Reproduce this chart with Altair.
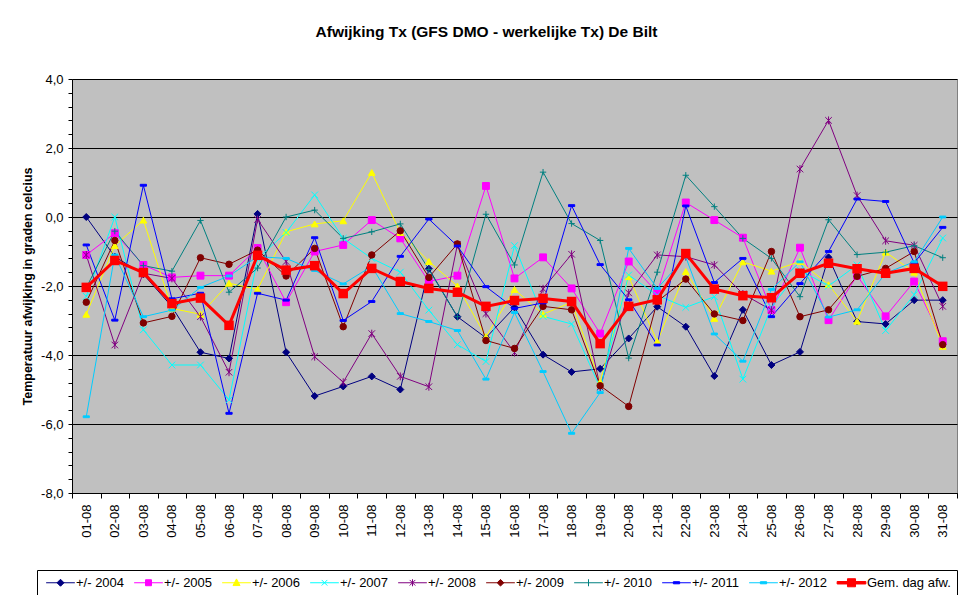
import altair as alt
import pandas as pd

FONT = "Liberation Sans"

days = ["01-08", "02-08", "03-08", "04-08", "05-08", "06-08", "07-08", "08-08",
        "09-08", "10-08", "11-08", "12-08", "13-08", "14-08", "15-08", "16-08",
        "17-08", "18-08", "19-08", "20-08", "21-08", "22-08", "23-08", "24-08",
        "25-08", "26-08", "27-08", "28-08", "29-08", "30-08", "31-08"]

s2004 = [0.00, -1.15, -1.66, -2.60, -3.92, -4.10, 0.09, -3.92, -5.19, -4.91, -4.62, -5.00, -1.50, -2.89, -3.50, -2.62,
         -3.99, -4.49, -4.40, -3.52, -2.60, -3.18, -4.61, -2.69, -4.29, -3.91, -1.17, -3.03, -3.10, -2.41, -2.41]
s2005 = [-1.10, -0.47, -1.39, -1.75, -1.70, -1.70, -0.90, -2.47, -1.00, -0.81, -0.09, -0.62, -1.87, -1.70, 0.90, -1.78,
         -1.17, -2.07, -3.38, -1.29, -2.19, 0.42, -0.09, -0.60, -2.70, -0.89, -2.99, -1.70, -2.88, -1.87, -3.60]
s2006 = [-2.82, -0.83, -0.09, -2.65, -2.82, -1.92, -2.10, -0.43, -0.20, -0.11, 1.29, -0.45, -1.29, -2.00, -3.47, -2.10,
         -2.82, -2.47, -4.78, -1.73, -3.61, -1.58, -2.94, -1.30, -1.57, -1.29, -1.96, -3.02, -1.02, -1.60, -3.75]
s2007 = [-2.30, 0.00, -3.27, -4.29, -4.29, -5.30, -1.21, -0.45, 0.64, -0.62, -1.20, -1.60, -2.70, -3.70, -4.19, -0.83,
         -2.88, -3.10, -4.95, -1.68, -2.27, -2.62, -2.31, -4.70, -2.61, -1.54, -2.00, -1.39, -3.29, -2.25, -0.61]
s2008 = [-1.10, -3.71, -1.63, -1.78, -2.89, -4.50, -0.07, -1.29, -4.05, -4.79, -3.38, -4.62, -4.92, -0.80, -2.80, -3.93,
         -2.08, -1.08, -4.93, -2.20, -1.10, -1.15, -1.39, -2.23, -2.70, 1.39, 2.80, 0.62, -0.69, -0.82, -2.59]
s2009 = [-2.47, -0.68, -3.07, -2.88, -1.18, -1.37, -0.96, -1.71, -0.91, -3.18, -1.10, -0.40, -1.75, -0.78, -3.58, -3.81,
         -2.59, -2.69, -4.89, -5.49, -2.45, -1.80, -2.81, -3.00, -1.00, -2.89, -2.69, -1.72, -1.49, -1.00, -3.70]
s2010 = [-2.05, -0.41, -1.41, -1.57, -0.10, -2.18, -1.48, 0.00, 0.20, -0.62, -0.43, -0.20, -1.52, -2.89, 0.08, -1.39,
         1.30, -0.19, -0.68, -4.09, -1.60, 1.21, 0.30, -0.62, -1.20, -2.31, -0.08, -1.09, -1.02, -0.83, -1.18]
s2011 = [-0.81, -2.99, 0.92, -2.37, -2.21, -5.69, -2.21, -2.41, -0.60, -3.00, -2.45, -1.14, -0.06, -0.84, -2.02, -2.65,
         -2.49, 0.33, -1.38, -2.40, -3.71, 0.32, -1.90, -1.20, -2.89, -1.93, -1.00, 0.52, 0.45, -1.33, -0.30]
s2012 = [-5.79, -1.10, -2.89, -2.70, -2.04, -1.71, -1.15, -1.20, -1.55, -1.94, -1.43, -2.80, -3.03, -3.29, -4.70, -2.77,
         -4.48, -6.27, -5.09, -0.91, -2.07, -1.16, -3.39, -4.18, -2.10, -1.30, -2.90, -2.69, -1.63, -1.30, 0.00]
gem = [-2.04, -1.26, -1.61, -2.51, -2.35, -3.14, -1.11, -1.54, -1.41, -2.22, -1.49, -1.87, -2.07, -2.18, -2.59, -2.42,
       -2.36, -2.45, -3.67, -2.59, -2.40, -1.06, -2.09, -2.28, -2.34, -1.63, -1.34, -1.50, -1.63, -1.49, -2.01]

year_names = ["+/- 2004", "+/- 2005", "+/- 2006", "+/- 2007", "+/- 2008",
              "+/- 2009", "+/- 2010", "+/- 2011", "+/- 2012"]
year_values = [s2004, s2005, s2006, s2007, s2008, s2009, s2010, s2011, s2012]
gem_name = "Gem. dag afw."
all_names = year_names + [gem_name]

colors = ["#000080", "#FF00FF", "#FFFF00", "#00FFFF", "#800080",
          "#800000", "#008080", "#0000FF", "#00CCFF", "#FF0000"]

plot_shapes = [
    "diamond",
    "square",
    "triangle-up",
    "M-1,-1L1,1M-1,1L1,-1",
    "M-1,-1L1,1M-1,1L1,-1M0,-1.2L0,1.2",
    "circle",
    "M-1,0H1M0,-1V1",
    "M-1,-0.3H1V0.3H-1Z",
    "M-1,-0.3H1V0.3H-1Z",
    "square",
]
plot_sizes = [49, 36, 49, 30, 36, 36, 49, 36, 40, 90]

L = "M-4.1,0H4.1"
legend_shapes = [
    L + "M0,-1L1,0L0,1L-1,0Z",
    L + "M-0.85,-0.85H0.85V0.85H-0.85Z",
    L + "M0,-1.1L1,0.8H-1Z",
    L + "M-0.8,-0.8L0.8,0.8M-0.8,0.8L0.8,-0.8",
    L + "M-0.8,-0.8L0.8,0.8M-0.8,0.8L0.8,-0.8M0,-1L0,1",
    L + "M0,-0.95L0.95,0L0,0.95L-0.95,0Z",
    L + "M0,-1V1",
    L + "M-0.9,-0.3H0.9V0.3H-0.9Z",
    L + "M-0.9,-0.3H0.9V0.3H-0.9Z",
    "M-4.1,-0.35H4.1V0.35H-4.1ZM-1.15,-1.15H1.15V1.15H-1.15Z",
]

y_ticks = [round(-8 + 0.4 * i, 1) for i in range(31)]

rows = []
for name, vals in zip(year_names, year_values):
    for d, v in zip(days, vals):
        rows.append({"day": d, "series": name, "value": v})
df_years = pd.DataFrame(rows)
df_gem = pd.DataFrame({"day": days, "series": gem_name, "value": gem})

major = "abs(datum.value/2 - round(datum.value/2)) < 0.01"

x_enc = alt.X(
    "day:N", sort=days,
    scale=alt.Scale(type="band", paddingInner=0, paddingOuter=0),
    axis=alt.Axis(title=None, labelAngle=270, labelFont=FONT, labelFontSize=13,
                  labelColor="black", tickColor="black", domainColor="black",
                  tickBand="extent", tickSize=5, labelPadding=6, grid=False),
)
y_enc = alt.Y(
    "value:Q",
    scale=alt.Scale(domain=[-8, 4], nice=False, zero=False),
    axis=alt.Axis(
        values=y_ticks,
        labelExpr=major + " ? (datum.value < 0 ? '-' : '') + replace(format(abs(datum.value), '.1f'), '.', ',') : ''",
        labelOverlap=False,
        labelFont=FONT, labelFontSize=13, labelColor="black", labelPadding=5,
        tickColor="black", tickSize=4, domainColor="black",
        gridColor="black", gridWidth=1,
        gridOpacity={"condition": {"test": "!(" + major + ")", "value": 0}, "value": 1},
        title="Temperatuur afwijking in graden celcius",
        titleFont=FONT, titleFontSize=12.5, titleFontWeight="bold", titleColor="black",
        titleAngle=270, titleX=-45, titleAlign="center", titleBaseline="middle",
    ),
)

color_scale = alt.Scale(domain=all_names, range=colors)

lines = alt.Chart(df_years).mark_line(strokeWidth=1).encode(
    x=x_enc, y=y_enc,
    color=alt.Color("series:N", scale=color_scale, legend=None),
)

points = alt.Chart(df_years).mark_point(filled=True, strokeWidth=1, opacity=1).encode(
    x=x_enc, y=y_enc,
    color=alt.Color("series:N", scale=color_scale, legend=None),
    stroke=alt.Stroke("series:N", scale=color_scale, legend=None),
    shape=alt.Shape("series:N", scale=alt.Scale(domain=all_names, range=plot_shapes), legend=None),
    size=alt.Size("series:N", scale=alt.Scale(domain=all_names, range=plot_sizes), legend=None),
)

gem_line = alt.Chart(df_gem).mark_line(color="#FF0000", strokeWidth=3).encode(x=x_enc, y=y_enc)
gem_pts = alt.Chart(df_gem).mark_point(shape="square", filled=True, color="#FF0000",
                                       size=90, opacity=1).encode(x=x_enc, y=y_enc)

leg = alt.Legend(
    title=None, orient="none", legendX=-35, legendY=491, direction="horizontal", columns=10,
    labelFont=FONT, labelFontSize=13, labelColor="black", labelLimit=0,
    symbolSize=49, symbolStrokeWidth=1, symbolOffset=11, labelOffset=9,
    columnPadding=6, padding=6, strokeColor="black", fillColor="white", symbolOpacity=1,
)

legend_layer = alt.Chart(df_years).transform_filter("false").mark_point(
    filled=True, strokeWidth=1, opacity=1).encode(
    x=x_enc, y=y_enc,
    color=alt.Color("series:N", scale=color_scale, legend=leg),
    stroke=alt.Stroke("series:N", scale=color_scale, legend=leg),
    shape=alt.Shape("series:N", scale=alt.Scale(domain=all_names, range=legend_shapes), legend=leg),
)

chart = alt.layer(lines, points, gem_line, gem_pts, legend_layer).resolve_scale(
    color="independent", stroke="independent", shape="independent", size="independent"
).properties(
    width=885, height=414,
    padding={"left": 64, "top": 71, "right": 5, "bottom": 102},
    autosize="none",
    background="white",
    title=alt.Title("Afwijking Tx (GFS DMO - werkelijke Tx) De Bilt", font=FONT, fontSize=15.5,
                    fontWeight="bold", color="black", anchor="middle", offset=33, dx=-28),
).configure_view(fill="#C0C0C0", stroke="#808080", strokeWidth=1)

chart.save("out.html", embed_options={"renderer": "svg", "actions": False})
